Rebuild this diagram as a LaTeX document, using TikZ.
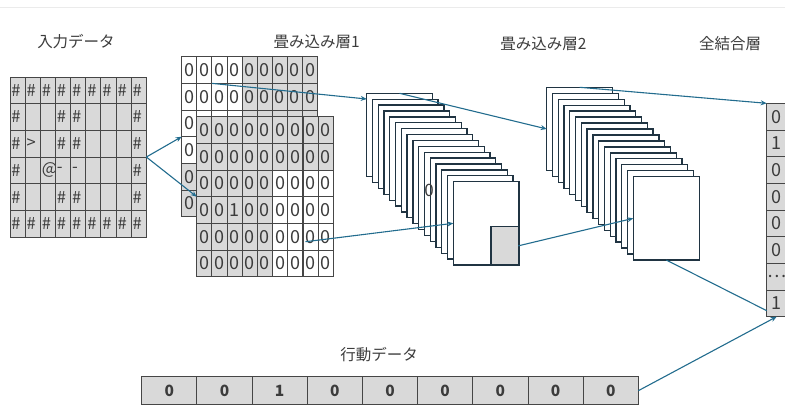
\documentclass[tikz,border=0pt]{standalone}
\usepackage{fontspec}
\setmainfont{Noto Sans CJK JP}
\usetikzlibrary{arrows.meta,calc}
\definecolor{cellgray}{RGB}{217,217,217}
\definecolor{gridline}{RGB}{70,70,70}
\definecolor{txt}{RGB}{60,60,60}
\definecolor{frameline}{RGB}{32,52,66}
\definecolor{arrowc}{RGB}{34,108,142}
\tikzset{
  cellbase/.style={draw=gridline,line width=0.9pt,inner sep=0pt,outer sep=0pt,anchor=north west,text=txt,font=\fontsize{18}{18}\selectfont},
  incell/.style={cellbase,fill=cellgray,minimum width=15.15pt,minimum height=26.67pt,inner xsep=1.5pt,text width=12.15pt,align=left,font=\fontsize{16.5}{16.5}\selectfont},
  c1cell/.style={cellbase,minimum width=15.1pt,minimum height=26.67pt},
  fccell/.style={cellbase,fill=cellgray,minimum width=20pt,minimum height=26.67pt},
  actcell/.style={cellbase,fill=cellgray,minimum width=55.18pt,minimum height=28pt,font=\fontsize{15.5}{15.5}\selectfont\bfseries},
  fmap/.style={draw=frameline,fill=white,line width=1.3pt,inner sep=0pt,outer sep=0pt,anchor=north west,minimum width=#1,minimum height=83.3pt},
  lbl/.style={text=txt,font=\fontsize{15.5}{15.5}\selectfont,inner sep=0pt},
  conn/.style={draw=arrowc,line width=1.1pt},
  arr/.style={conn,-{Stealth[length=6pt,width=5pt]}}
}
\begin{document}
\begin{tikzpicture}[x=1pt,y=-1pt]
\useasboundingbox (0,0) rectangle (785,405);
\draw[black!8,line width=1pt] (0,7) -- (785,7);

% labels
\node[lbl] (lin) at (76,41.7) {入力データ};
\node[lbl] (lc1) at (316.7,41.7) {畳み込み層1};
\node[lbl] (lc2) at (543.5,44) {畳み込み層2};
\node[lbl] (lfc) at (730,44) {全結合層};
\node[lbl] (lact) at (379,355) {行動データ};

% input grid
\foreach \r/\lst in {
  1/{\#,\#,\#,\#,\#,\#,\#,\#,\#},
  2/{\#,{},{},\#,\#,{},{},{},\#},
  3/{\#,>,{},\#,\#,{},{},{},\#},
  4/{\#,{},@,-,-,{},{},{},\#},
  5/{\#,{},{},\#,\#,{},{},{},\#},
  6/{\#,\#,\#,\#,\#,\#,\#,\#,\#}} {
  \foreach \v [count=\c] in \lst {
    \node[incell] (in-\r-\c) at ({10+(\c-1)*15.15},{77+(\r-1)*26.67}) {\v};
  }
}

% conv layer 1, back grid (cells hidden behind the front grid carry no text)
\foreach \r in {1,...,6} {
  \foreach \c in {1,...,9} {
    \pgfmathtruncatemacro{\w}{and(\r<5,\c<5)}
    \ifnum\w=1 \def\fc{white}\else\def\fc{cellgray}\fi
    \pgfmathtruncatemacro{\hid}{and(\r>2,\c>1)}
    \ifnum\hid=1 \def\val{}\else\def\val{0}\fi
    \node[c1cell,fill=\fc] (c1b-\r-\c) at ({181.7+(\c-1)*15.1},{56.7+(\r-1)*26.67}) {\val};
  }
}
% conv layer 1, front grid
\foreach \r in {1,...,6} {
  \foreach \c in {1,...,9} {
    \pgfmathtruncatemacro{\w}{and(\r>2,\c>5)}
    \ifnum\w=1 \def\fc{white}\else\def\fc{cellgray}\fi
    \pgfmathtruncatemacro{\one}{and(\r==4,\c==3)}
    \ifnum\one=1 \def\val{1}\else\def\val{0}\fi
    \node[c1cell,fill=\fc] (c1f-\r-\c) at ({196.7+(\c-1)*15.18},{116.7+(\r-1)*26.67}) {\val};
  }
}

% conv layer 2 feature maps (stack 1)
\foreach \i in {0,...,15} {
  \node[fmap=65.6pt] (f1-\i) at ({366.7+\i*5.773},{93.3+\i*5.89}) {};
}
\node[text=txt,font=\fontsize{17}{17}\selectfont,inner sep=0pt] (stray) at (429,190) {0};
\node[draw=frameline,fill=cellgray,line width=1.3pt,inner sep=0pt,outer sep=0pt,anchor=north west,minimum width=27.3pt,minimum height=38.3pt] (sq) at (491,226.7) {};

% stack 2
\foreach \i in {0,...,15} {
  \node[fmap=66pt] (f2-\i) at ({546.7+\i*5.77},{87.3+\i*5.96}) {};
}

% fully connected
\foreach \v [count=\i] in {0,1,0,0,0,0,…,1} {
  \node[fccell] (fc-\i) at (766.7,{103.3+(\i-1)*26.67}) {\v};
}

% action data
\foreach \v [count=\i] in {0,0,1,0,0,0,0,0,0} {
  \node[actcell] (act-\i) at ({141.7+(\i-1)*55.18},376.7) {\v};
}

% connectors
\coordinate (a3s) at ($(c1b-2-3.north west)$);
\coordinate (a3e) at ($(f1-0.north west)+(0,5.7)$);
\coordinate (a4s) at ($(c1f-5-8.center)+(-5,5)$);
\coordinate (a8e) at ($(fc-8.south west)+(0,-6)$);
\draw[arr] (in-4-9.north east) -- (c1b-3-1.south west);
\draw[arr] (in-4-9.north east) -- (c1f-3-1.south west);
\draw[arr] (a3s) -- (a3e);
\draw[arr] (a4s) -- (f1-15.west);
\draw[arr] (f1-0.north) -- (f2-0.west);
\draw[arr] (sq.east) -- (f2-15.west);
\draw[arr] (f2-0.north) -- (fc-1.north west);
\draw[conn] (f2-15.south) -- (a8e);
\draw[arr] (act-9.east) -- (fc-8.south);
\end{tikzpicture}
\end{document}
